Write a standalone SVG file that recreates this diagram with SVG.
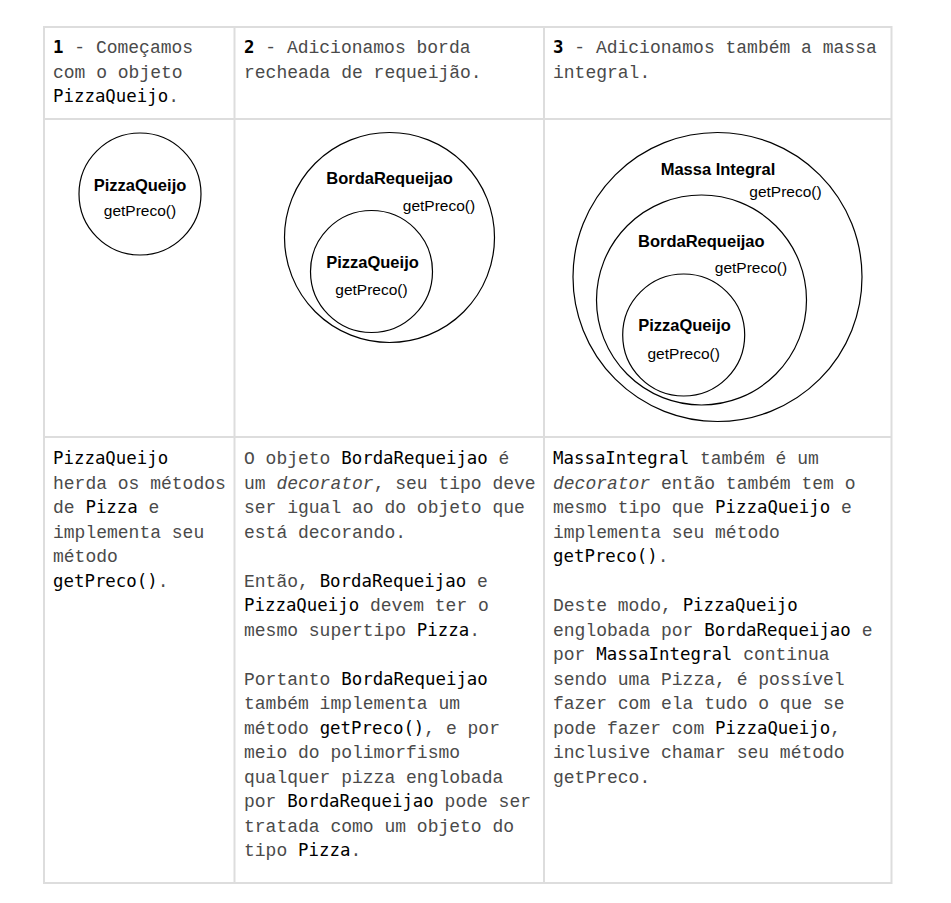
<svg xmlns="http://www.w3.org/2000/svg" width="951" height="903" viewBox="0 0 951 903">
<style>
.grid{stroke:#dddddd;stroke-width:2;fill:none}
.p{font-family:"Liberation Mono","Courier New",monospace;font-size:18px;fill:#4a4a4a}
.c{font-family:"DejaVu Sans Mono",monospace;font-size:17.4px;fill:#000000}
.b{font-weight:bold}
.i{font-style:italic}
.ring{fill:none;stroke:#000000;stroke-width:1.2}
.lb{font-family:"Liberation Sans",Arial,sans-serif;font-size:16.5px;font-weight:bold;text-anchor:middle;fill:#000000}
.lm{font-family:"Liberation Sans",Arial,sans-serif;font-size:15.5px;text-anchor:middle;fill:#000000}
</style>
<rect width="951" height="903" fill="#ffffff"/>
<g id="table">
<rect class="grid" x="44" y="27" width="847.5" height="856"/>
<line class="grid" x1="234.5" y1="27" x2="234.5" y2="883"/>
<line class="grid" x1="544" y1="27" x2="544" y2="883"/>
<line class="grid" x1="44" y1="119" x2="891.5" y2="119"/>
<line class="grid" x1="44" y1="437" x2="891.5" y2="437"/>
</g>
<g id="header1">
<text class="p" x="53" y="53"><tspan class="c b">1</tspan> - Começamos</text>
<text class="p" x="53" y="77.5">com o objeto</text>
<text class="p" x="53" y="102"><tspan class="c">PizzaQueijo</tspan>.</text>
</g>
<g id="header2">
<text class="p" x="244" y="53"><tspan class="c b">2</tspan> - Adicionamos borda</text>
<text class="p" x="244" y="77.5">recheada de requeijão.</text>
</g>
<g id="header3">
<text class="p" x="553" y="53"><tspan class="c b">3</tspan> - Adicionamos também a massa</text>
<text class="p" x="553" y="77.5">integral.</text>
</g>
<g id="step1-pizza">
<circle class="ring" cx="140" cy="194" r="61"/>
<text class="lb" x="140" y="190.5">PizzaQueijo</text>
<text class="lm" x="140" y="216">getPreco()</text>
</g>
<g id="step2-borda">
<circle class="ring" cx="389.5" cy="237.5" r="105"/>
<text class="lb" x="389.5" y="184">BordaRequeijao</text>
<text class="lm" x="439" y="210.5">getPreco()</text>
</g>
<g id="step2-pizza">
<circle class="ring" cx="371.5" cy="271.5" r="61"/>
<text class="lb" x="372.5" y="267.5">PizzaQueijo</text>
<text class="lm" x="371.5" y="295">getPreco()</text>
</g>
<g id="step3-massa">
<circle class="ring" cx="717.5" cy="277" r="144.5"/>
<text class="lb" x="718" y="174.5">Massa Integral</text>
<text class="lm" x="785.5" y="197">getPreco()</text>
</g>
<g id="step3-borda">
<circle class="ring" cx="701.5" cy="300" r="105"/>
<text class="lb" x="701.3" y="246.5">BordaRequeijao</text>
<text class="lm" x="751" y="273">getPreco()</text>
</g>
<g id="step3-pizza">
<circle class="ring" cx="683.7" cy="335" r="61"/>
<text class="lb" x="684.5" y="331">PizzaQueijo</text>
<text class="lm" x="683.7" y="359">getPreco()</text>
</g>
<g id="connectors"/>
<g id="desc1">
<text class="p" x="53" y="464"><tspan class="c">PizzaQueijo</tspan></text>
<text class="p" x="53" y="488.5">herda os métodos</text>
<text class="p" x="53" y="513">de <tspan class="c">Pizza</tspan> e</text>
<text class="p" x="53" y="537.5">implementa seu</text>
<text class="p" x="53" y="562">método</text>
<text class="p" x="53" y="586.5"><tspan class="c">getPreco()</tspan>.</text>
</g>
<g id="desc2">
<text class="p" x="244" y="464">O objeto <tspan class="c">BordaRequeijao</tspan> é</text>
<text class="p" x="244" y="488.5">um <tspan class="i">decorator</tspan>, seu tipo deve</text>
<text class="p" x="244" y="513">ser igual ao do objeto que</text>
<text class="p" x="244" y="537.5">está decorando.</text>
<text class="p" x="244" y="586.5">Então, <tspan class="c">BordaRequeijao</tspan> e</text>
<text class="p" x="244" y="611"><tspan class="c">PizzaQueijo</tspan> devem ter o</text>
<text class="p" x="244" y="635.5">mesmo supertipo <tspan class="c">Pizza</tspan>.</text>
<text class="p" x="244" y="684.5">Portanto <tspan class="c">BordaRequeijao</tspan></text>
<text class="p" x="244" y="709">também implementa um</text>
<text class="p" x="244" y="733.5">método <tspan class="c">getPreco()</tspan>, e por</text>
<text class="p" x="244" y="758">meio do polimorfismo</text>
<text class="p" x="244" y="782.5">qualquer pizza englobada</text>
<text class="p" x="244" y="807">por <tspan class="c">BordaRequeijao</tspan> pode ser</text>
<text class="p" x="244" y="831.5">tratada como um objeto do</text>
<text class="p" x="244" y="856">tipo <tspan class="c">Pizza</tspan>.</text>
</g>
<g id="desc3">
<text class="p" x="553" y="464"><tspan class="c">MassaIntegral</tspan> também é um</text>
<text class="p" x="553" y="488.5"><tspan class="i">decorator</tspan> então também tem o</text>
<text class="p" x="553" y="513">mesmo tipo que <tspan class="c">PizzaQueijo</tspan> e</text>
<text class="p" x="553" y="537.5">implementa seu método</text>
<text class="p" x="553" y="562"><tspan class="c">getPreco()</tspan>.</text>
<text class="p" x="553" y="611">Deste modo, <tspan class="c">PizzaQueijo</tspan></text>
<text class="p" x="553" y="635.5">englobada por <tspan class="c">BordaRequeijao</tspan> e</text>
<text class="p" x="553" y="660">por <tspan class="c">MassaIntegral</tspan> continua</text>
<text class="p" x="553" y="684.5">sendo uma Pizza, é possível</text>
<text class="p" x="553" y="709">fazer com ela tudo o que se</text>
<text class="p" x="553" y="733.5">pode fazer com <tspan class="c">PizzaQueijo</tspan>,</text>
<text class="p" x="553" y="758">inclusive chamar seu método</text>
<text class="p" x="553" y="782.5">getPreco.</text>
</g>
</svg>
